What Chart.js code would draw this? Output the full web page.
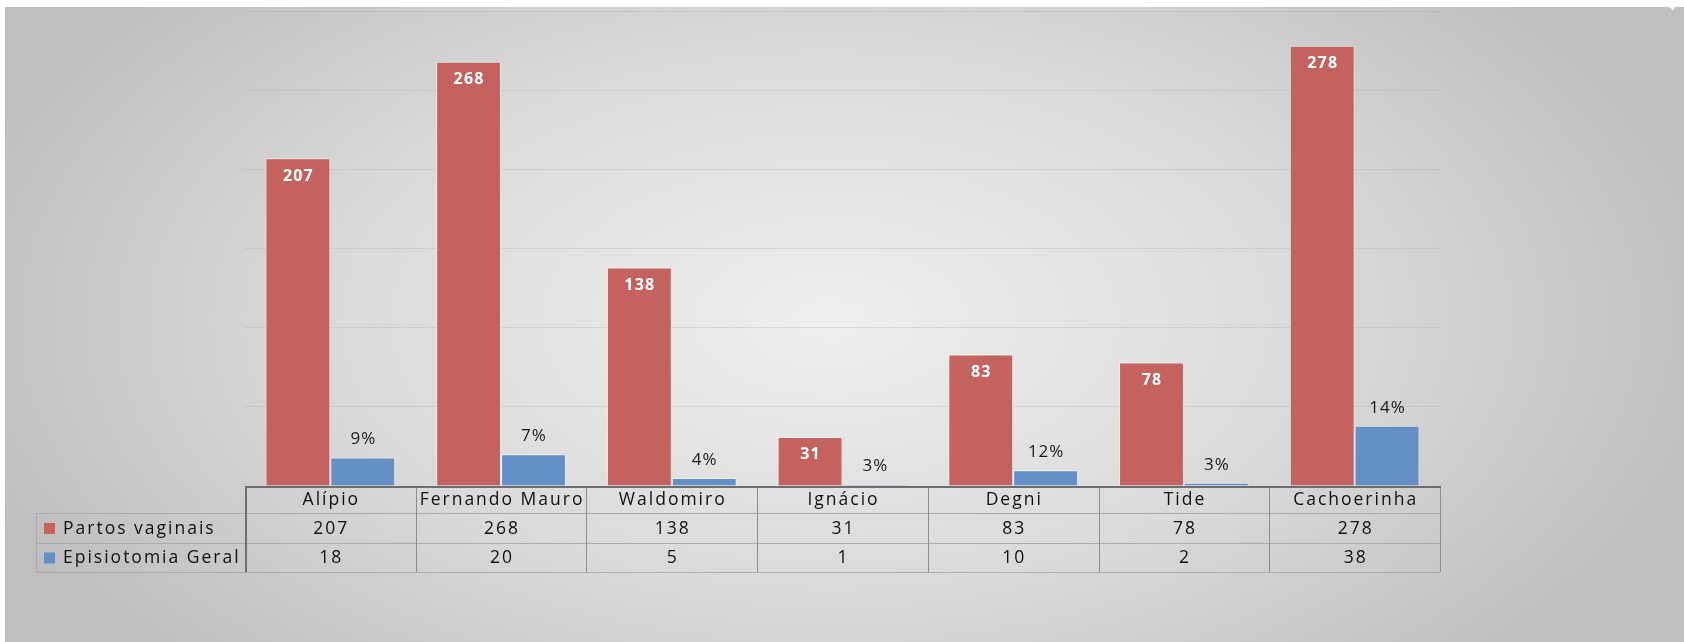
<!DOCTYPE html>
<html>
<head>
<meta charset="utf-8">
<script src="https://cdn.jsdelivr.net/npm/chart.js@4.4.1/dist/chart.umd.min.js"></script>
<style>
  html, body { margin: 0; padding: 0; background: #ffffff; }
  #chart { display: block; }
</style>
</head>
<body>
<canvas id="chart" width="1684" height="642"></canvas>
<script>
// --- data ---
const categories = ['Alípio', 'Fernando Mauro', 'Waldomiro', 'Ignácio', 'Degni', 'Tide', 'Cachoerinha'];
const partosVaginais = [207, 268, 138, 31, 83, 78, 278];
const episiotomiaGeral = [18, 20, 5, 1, 10, 2, 38];
const episiotomiaLabels = ['9%', '7%', '4%', '3%', '12%', '3%', '14%'];
const seriesNames = ['Partos vaginais', 'Episiotomia Geral'];
const yMax = 300;
const yStep = 50;

const RED = '#C4625F';
const BLUE = '#6590C5';
const FONT = '"Open Sans", "DejaVu Sans", sans-serif';

// grey panel with a soft light centre
const backgroundPlugin = {
    id: 'panelBackground',
    beforeDraw(chart) {
        const ctx = chart.ctx;
        const w = chart.width, h = chart.height;
        ctx.save();
        ctx.fillStyle = '#ffffff';
        ctx.fillRect(0, 0, w, h);
        ctx.translate(830, 320);
        ctx.scale(1, 0.55);
        const g = ctx.createRadialGradient(0, 0, 0, 0, 0, 900);
        g.addColorStop(0, '#EFEFEF');
        g.addColorStop(0.55, '#DADADA');
        g.addColorStop(1, '#BFBFBF');
        ctx.fillStyle = g;
        ctx.fillRect(-830 + 5, (-320 + 7) / 0.55, w - 5, (h - 7) / 0.55);
        ctx.restore();
        // little page fold in the top right corner
        ctx.save();
        ctx.strokeStyle = 'rgba(255,255,255,0.9)';
        ctx.lineWidth = 3;
        ctx.beginPath();
        ctx.moveTo(1662, 0);
        ctx.quadraticCurveTo(1668, 4, 1674, 9);
        ctx.stroke();
        ctx.restore();
    }
};

// value labels on the bars
const barLabelPlugin = {
    id: 'barLabels',
    afterDatasetsDraw(chart) {
        const ctx = chart.ctx;
        ctx.save();
        ctx.textAlign = 'center';
        ctx.textBaseline = 'middle';
        chart.getDatasetMeta(0).data.forEach((bar, i) => {
            ctx.font = 'bold 16px ' + FONT;
            ctx.letterSpacing = '1.2px';
            ctx.fillStyle = '#ffffff';
            ctx.fillText(String(partosVaginais[i]), bar.x + 0.5, bar.y + 18);
        });
        chart.getDatasetMeta(1).data.forEach((bar, i) => {
            ctx.font = '17px ' + FONT;
            ctx.letterSpacing = '1px';
            ctx.fillStyle = '#1a1a1a';
            ctx.fillText(episiotomiaLabels[i], bar.x + 0.5, bar.y - 18);
        });
        ctx.restore();
    }
};

// data table under the plot
const dataTablePlugin = {
    id: 'dataTable',
    afterDraw(chart) {
        const ctx = chart.ctx;
        const area = chart.chartArea;
        const x = chart.scales.x;
        const colW = (area.right - area.left) / categories.length;
        const top = area.bottom;
        const rowH = [27, 30, 29];
        const y1 = top + rowH[0];
        const y2 = y1 + rowH[1];
        const y3 = y2 + rowH[2];
        const labelLeft = 36;

        ctx.save();
        ctx.lineWidth = 1;

        // row separators
        ctx.strokeStyle = '#ABABAB';
        ctx.beginPath();
        ctx.moveTo(labelLeft, y1 + 0.5); ctx.lineTo(area.right, y1 + 0.5);
        ctx.moveTo(labelLeft, y2 + 0.5); ctx.lineTo(area.right, y2 + 0.5);
        ctx.moveTo(labelLeft, y3 + 0.5); ctx.lineTo(area.right, y3 + 0.5);
        ctx.moveTo(labelLeft + 0.5, y1); ctx.lineTo(labelLeft + 0.5, y3);
        ctx.stroke();

        // column separators
        ctx.strokeStyle = '#8E8E8E';
        ctx.beginPath();
        for (let i = 1; i <= categories.length; i++) {
            const cx = Math.round(area.left + i * colW) + 0.5;
            ctx.moveTo(cx, top); ctx.lineTo(cx, y3);
        }
        ctx.stroke();

        // darker frame: axis line and first column edge
        ctx.strokeStyle = '#6E6E6E';
        ctx.lineWidth = 2;
        ctx.beginPath();
        ctx.moveTo(area.left, top + 1); ctx.lineTo(area.right + 1, top + 1);
        ctx.moveTo(area.left + 1, top); ctx.lineTo(area.left + 1, y3);
        ctx.stroke();

        // texts
        ctx.fillStyle = '#111111';
        ctx.textAlign = 'center';
        ctx.textBaseline = 'middle';
        ctx.font = '17.5px ' + FONT;
        ctx.letterSpacing = '2px';
        categories.forEach((c, i) => {
            const cx = x.getPixelForValue(i) + 1;
            ctx.fillText(c, cx, (top + y1) / 2 + 1);
            ctx.fillText(String(partosVaginais[i]), cx, (y1 + y2) / 2 + 1);
            ctx.fillText(String(episiotomiaGeral[i]), cx, (y2 + y3) / 2 + 1);
        });

        // series names with colour keys
        ctx.textAlign = 'left';
        [[RED, y1, y2], [BLUE, y2, y3]].forEach(([col, a, b], k) => {
            const mid = (a + b) / 2;
            ctx.fillStyle = col;
            ctx.fillRect(labelLeft + 8, mid - 5, 11, 11);
            ctx.fillStyle = '#111111';
            ctx.fillText(seriesNames[k], labelLeft + 27, mid + 1);
        });
        ctx.restore();
    }
};

new Chart(document.getElementById('chart'), {
    type: 'bar',
    data: {
        labels: categories,
        datasets: [
            {
                label: seriesNames[0],
                data: partosVaginais,
                backgroundColor: RED,
                borderColor: 'rgba(255,255,255,0.55)',
                borderWidth: 1,
            },
            {
                label: seriesNames[1],
                data: episiotomiaGeral,
                backgroundColor: BLUE,
                borderColor: 'rgba(255,255,255,0.55)',
                borderWidth: 1,
            },
        ],
    },
    options: {
        responsive: false,
        animation: false,
        layout: {
            padding: { left: 245, right: 244, top: 11, bottom: 156 },
        },
        datasets: {
            bar: { categoryPercentage: 0.76, barPercentage: 1.0 },
        },
        plugins: {
            legend: { display: false },
            tooltip: { enabled: false },
        },
        scales: {
            x: {
                display: false,
            },
            y: {
                min: 0,
                max: yMax,
                ticks: { display: false, stepSize: yStep },
                border: { display: false },
                grid: { color: 'rgba(150,150,150,0.22)', drawTicks: false },
            },
        },
    },
    plugins: [backgroundPlugin, barLabelPlugin, dataTablePlugin],
});
</script>
</body>
</html>
